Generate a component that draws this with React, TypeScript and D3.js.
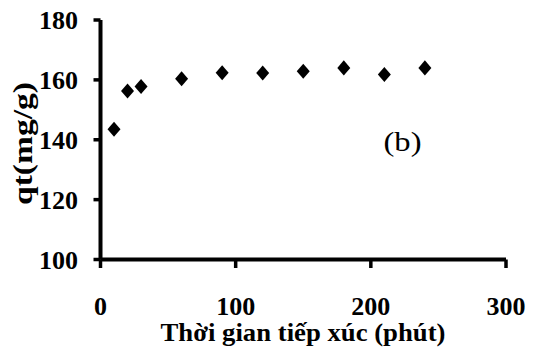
import React from "react";
import * as d3 from "d3";

const times = [10, 20, 30, 60, 90, 120, 150, 180, 210, 240];
const qtValues = [143.5, 156.3, 157.8, 160.4, 162.4, 162.3, 162.9, 164.0, 161.8, 164.0];
const xTicks = [0, 100, 200, 300];
const yTicks = [100, 120, 140, 160, 180];
const xTitle = "Thời gian tiếp xúc (phút)";
const yTitle = "qt(mg/g)";
const panelLabel = "(b)";

export default function App() {
  const W = 534, H = 353;
  const x = d3.scaleLinear().domain([0, 300]).range([100.5, 506]);
  const y = d3.scaleLinear().domain([100, 180]).range([259.5, 20]);
  const diamond = d3.symbol().type(d3.symbolDiamond).size(95)();
  const x0 = x(0), y0 = y(100);
  return (
    <svg width={W} height={H} style={{ position: "absolute", left: 0, top: 0, background: "#fff", fontFamily: "'Liberation Serif'" }}>
      <rect width={W} height={H} fill="#fff" />
      <line x1={x0} x2={x(300)} y1={y0} y2={y0} stroke="#000" strokeWidth={4} />
      <line x1={x0} x2={x0} y1={y(180)} y2={y0} stroke="#000" strokeWidth={4} />
      {yTicks.map((t) => (
        <g key={"y" + t}>
          <line x1={x0 - 7} x2={x0} y1={y(t)} y2={y(t)} stroke="#000" strokeWidth={3.5} />
          <text x={78} y={y(t) + 9} textAnchor="end" fontWeight="bold" fontSize={26}>
            {String(t)}
          </text>
        </g>
      ))}
      {xTicks.map((t) => (
        <g key={"x" + t}>
          <line x1={x(t)} x2={x(t)} y1={y0} y2={y0 + 8.5} stroke="#000" strokeWidth={3.5} />
          <text x={x(t)} y={315} textAnchor="middle" fontWeight="bold" fontSize={26}>
            {String(t)}
          </text>
        </g>
      ))}
      {times.map((t, i) => (
        <path key={"p" + i} d={diamond} transform={`translate(${x(t)},${y(qtValues[i])}) scale(1.24,0.83)`} fill="#000" />
      ))}
      <text x={303} y={341} textAnchor="middle" fontWeight="bold" fontSize={25}
        textLength={285} lengthAdjust="spacingAndGlyphs">
        {xTitle}
      </text>
      <text transform="translate(32,143.5) rotate(-90)" textAnchor="middle" fontWeight="bold"
        fontSize={28} textLength={123} lengthAdjust="spacingAndGlyphs">
        {yTitle}
      </text>
      <text x={402.5} y={151} textAnchor="middle" fontSize={28} textLength={38}
        lengthAdjust="spacingAndGlyphs">
        {panelLabel}
      </text>
    </svg>
  );
}
